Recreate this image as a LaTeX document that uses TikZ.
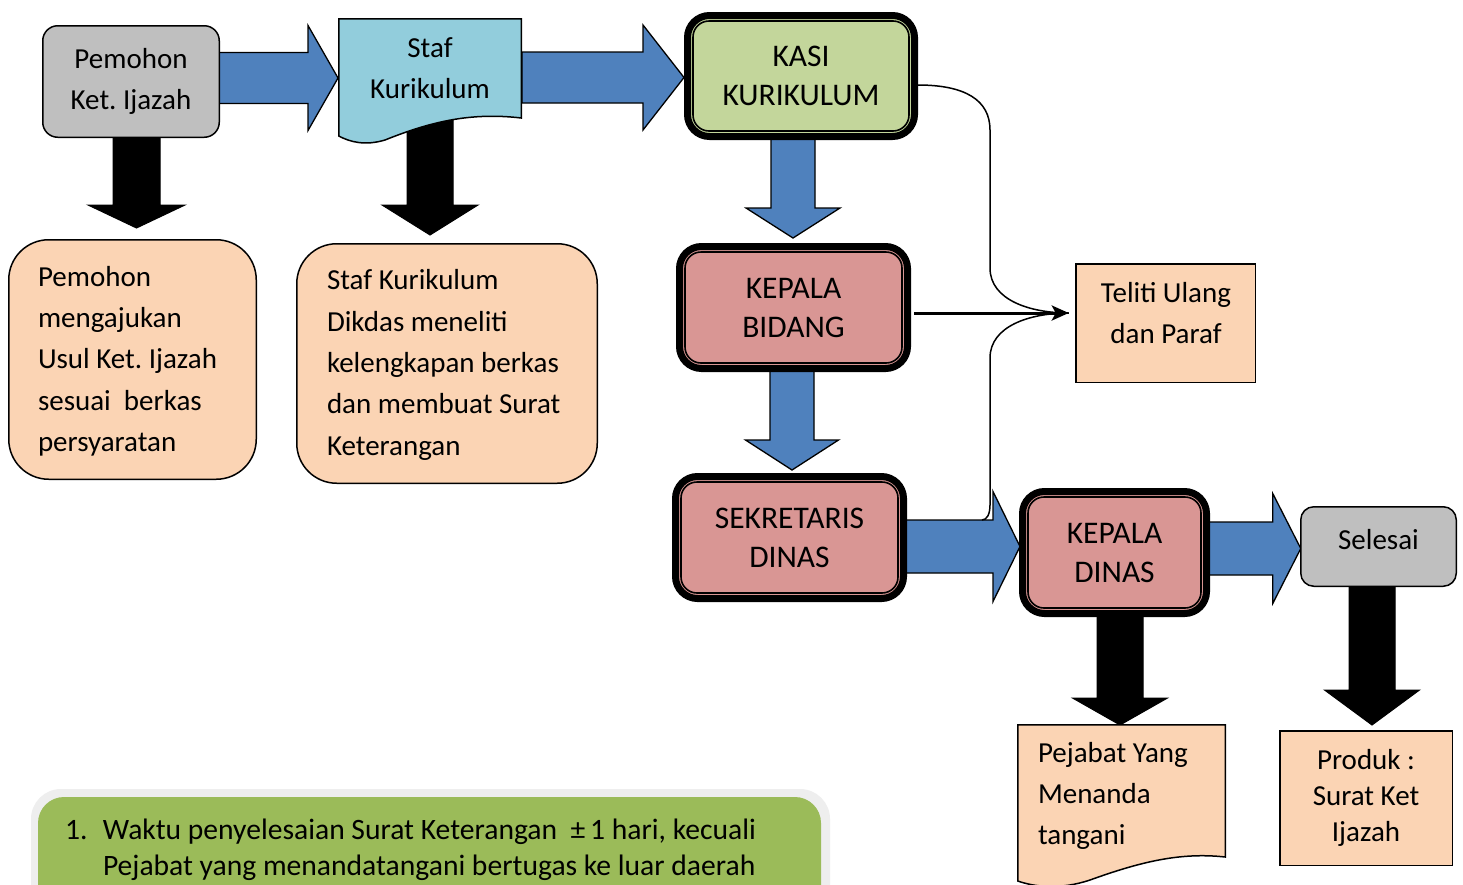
\documentclass[tikz,border=0pt]{standalone}
\usepackage{fontspec}
\setmainfont{Carlito}
\frenchspacing
\usetikzlibrary{calc,arrows.meta}
\definecolor{grayfill}{HTML}{BFBFBF}
\definecolor{lightblue}{HTML}{92CDDC}
\definecolor{kasigreen}{HTML}{C3D69B}
\definecolor{pinkfill}{HTML}{D99694}
\definecolor{peach}{HTML}{FBD4B4}
\definecolor{bluearrow}{HTML}{4F81BD}
\definecolor{notegreen}{HTML}{9BBB59}
\definecolor{noteedge}{HTML}{EEEEEE}
\pgfdeclarelayer{bg}
\pgfsetlayers{bg,main}
\newcommand{\harr}[6]{\draw[#1] let \p1=(#2), \p2=(#3) in (\x1,\y1+#4) -- (\x2-#6,\y1+#4) -- (\x2-#6,\y1+#5) -- (\x2,\y1) -- (\x2-#6,\y1-#5) -- (\x2-#6,\y1-#4) -- (\x1,\y1-#4) -- cycle;}
\newcommand{\varr}[6]{\draw[#1] let \p1=(#2), \p2=(#3) in (\x1+#4,\y1) -- (\x1+#4,\y2+#6) -- (\x1+#5,\y2+#6) -- (\x1,\y2) -- (\x1-#5,\y2+#6) -- (\x1-#4,\y2+#6) -- (\x1-#4,\y1) -- cycle;}
\newcommand{\innerline}[1]{\draw[line width=1.6pt, rounded corners=16pt] ([shift={(5.5pt,-5.5pt)}]#1.north west) rectangle ([shift={(-5.5pt,5.5pt)}]#1.south east);}
\tikzset{
  every node/.append style={outer sep=0pt},
  txt/.style={font=\fontsize{29}{41.3}\selectfont, align=center, inner sep=0pt},
  ltxt/.style={font=\fontsize{29}{41.3}\selectfont, align=left, inner sep=0pt, anchor=west},
  capt/.style={font=\fontsize{31.5}{39}\selectfont, align=center, inner sep=0pt},
  graybox/.style={draw=black, line width=1.5pt, fill=grayfill, rounded corners=15pt, inner sep=0pt},
  heavybox/.style={draw=black, line width=7pt, rounded corners=22pt, inner sep=0pt, capt},
  peachround/.style={draw=black, line width=1.5pt, fill=peach, rounded corners=40pt, inner sep=0pt},
  peachrect/.style={draw=black, line width=1.5pt, fill=peach, inner sep=0pt},
  docshape/.style={draw=black, line width=1.5pt},
  holder/.style={inner sep=0pt},
  bluearr/.style={fill=bluearrow, draw=black, line width=1.3pt, line join=miter},
  blackarr/.style={fill=black, draw=black, line width=1pt, line join=miter},
  conn/.style={draw=black, line width=1.5pt},
}
\begin{document}
\begin{tikzpicture}[x=1pt,y=-1pt]
\useasboundingbox (0,0) rectangle (1463,884);
\begin{pgfonlayer}{bg}
\fill[white] (0,0) rectangle (1463,884);
\end{pgfonlayer}

% note box
\begin{scope}
  \clip (0,0) rectangle (1463,884);
  \fill[noteedge, rounded corners=30pt] (31,789) rectangle (830,950);
  \fill[notegreen, rounded corners=26pt] (38,797) rectangle (821,950);
\end{scope}
\node[ltxt, font=\fontsize{29.6}{36}\selectfont] (note) at (65,850)
  {\makebox[38pt][l]{1.}Waktu penyelesaian Surat Keterangan\ \ ±\,1 hari, kecuali\\\hspace*{38pt}Pejabat yang menandatangani bertugas ke luar daerah};

% main boxes
\node[graybox, minimum width=176.5pt, minimum height=111.5pt, txt] (pem) at (131,81.5) {Pemohon\\Ket. Ijazah};
\node[holder, minimum width=184pt, minimum height=125pt] (staf) at (430,80.5) {};
\draw[docshape, fill=lightblue] (338.75,18.75) -- (521.25,18.75) -- (521.25,118)
   .. controls (470,112) and (430,122) .. (385,140)
   .. controls (365,146) and (350,142) .. (338.75,136) -- cycle;
\node[txt] (staftxt) at (430,68.5) {Staf\\Kurikulum};

\node[heavybox, fill=kasigreen, minimum width=227pt, minimum height=121pt] (kasi) at (801,76) {KASI\\KURIKULUM};
\innerline{kasi}
\node[heavybox, fill=pinkfill, minimum width=228pt, minimum height=122pt] (kb) at (793.5,307.5) {KEPALA\\BIDANG};
\innerline{kb}
\node[heavybox, fill=pinkfill, minimum width=228pt, minimum height=122pt] (sd) at (789.5,537.5) {SEKRETARIS\\DINAS};
\innerline{sd}
\node[heavybox, fill=pinkfill, minimum width=184pt, minimum height=122pt] (kd) at (1114.5,552.5) {KEPALA\\DINAS};
\innerline{kd}
\node[graybox, rounded corners=13pt, minimum width=155.5pt, minimum height=79.5pt] (sel) at (1378.5,546.5) {};
\node[txt] (seltxt) at (1378.5,540) {Selesai};

\node[peachround, minimum width=247.5pt, minimum height=239.5pt] (b1) at (132.5,359.5) {};
\node[ltxt] (b1txt) at (38,361) {Pemohon\\mengajukan\\Usul Ket. Ijazah\\sesuai\ \ berkas\\persyaratan};
\node[peachround, minimum width=300.5pt, minimum height=239.5pt] (b2) at (447,363.5) {};
\node[ltxt] (b2txt) at (327,365) {Staf Kurikulum\\Dikdas meneliti\\kelengkapan berkas\\dan membuat Surat\\Keterangan};

\node[peachrect, minimum width=179.5pt, minimum height=118.5pt] (teli) at (1165.5,323) {};
\node[txt] (telitxt) at (1166,313) {Teliti Ulang\\dan Paraf};

\node[peachrect, minimum width=172.5pt, minimum height=134.5pt, txt, font=\fontsize{29}{36}\selectfont] (prod) at (1366,798) {Produk :\\Surat Ket\\Ijazah};

\node[holder, minimum width=209pt, minimum height=156pt] (pej) at (1121.5,802) {};
\begin{scope}
  \clip (0,0) rectangle (1463,884);
  \draw[docshape, fill=peach] (1017.75,724.75) -- (1225.25,724.75) -- (1225.25,857)
     .. controls (1180,852) and (1140,862) .. (1090,880)
     .. controls (1060,890) and (1035,887) .. (1017.75,881) -- cycle;
\end{scope}
\node[ltxt] (pejtxt) at (1038,796) {Pejabat Yang\\Menanda\\tangani};

% block arrows (behind)
\begin{pgfonlayer}{bg}
\harr{bluearr}{[yshift=3.5pt]pem.east}{staf.west}{25.5pt}{52.5pt}{30pt}
\harr{bluearr}{[yshift=3pt]staf.east}{[xshift=-3.5pt]kasi.west}{25.5pt}{52.5pt}{41pt}
\varr{bluearr}{[xshift=-8pt]kasi.south}{[yshift=8.5pt]kb.north}{22pt}{47pt}{30pt}
\varr{bluearr}{[xshift=-1.5pt]kb.south}{[yshift=6.5pt]sd.north}{22pt}{46.5pt}{30pt}
\harr{bluearr}{[yshift=-9pt]sd.east}{[xshift=-2.5pt]kd.west}{26.5pt}{55pt}{27pt}
\harr{bluearr}{[yshift=4pt]kd.east}{sel.west}{26.5pt}{55pt}{28pt}
\varr{blackarr}{[xshift=5.5pt]pem.south}{[yshift=11.75pt]b1.north}{23.5pt}{48.5pt}{23pt}
\varr{blackarr}{staf.center}{[yshift=8.75pt]b2.north}{23pt}{48pt}{30pt}
\varr{blackarr}{[xshift=5.5pt]kd.south}{[yshift=-1pt]pej.north}{23pt}{47.5pt}{27pt}
\varr{blackarr}{[xshift=-6.5pt]sel.south}{[yshift=5.75pt]prod.north}{23pt}{47.5pt}{35pt}
\end{pgfonlayer}

% connectors to Teliti
\coordinate (tip) at ([xshift=-7pt,yshift=10pt]teli.west);
\coordinate (kasiout) at ([xshift=3.5pt,yshift=-9pt]kasi.east);
\coordinate (sdarr) at ([xshift=78.5pt,yshift=17.5pt]sd.east);
\draw[conn] (kasiout) .. controls (965,85) and (990,100) .. (990,130) -- (990,268)
   .. controls (990,300) and (1030,313) .. (tip);
\draw[conn] (tip) .. controls (1030,313) and (990,326) .. (990,358) -- (990,505)
   .. controls (990,514) and (987,520) .. (sdarr);
\draw[line width=3pt, -{Stealth[length=17pt,width=15pt,inset=4pt]}] ([xshift=6.5pt,yshift=-5.5pt]kb.east) -- (tip);
\end{tikzpicture}
\end{document}
